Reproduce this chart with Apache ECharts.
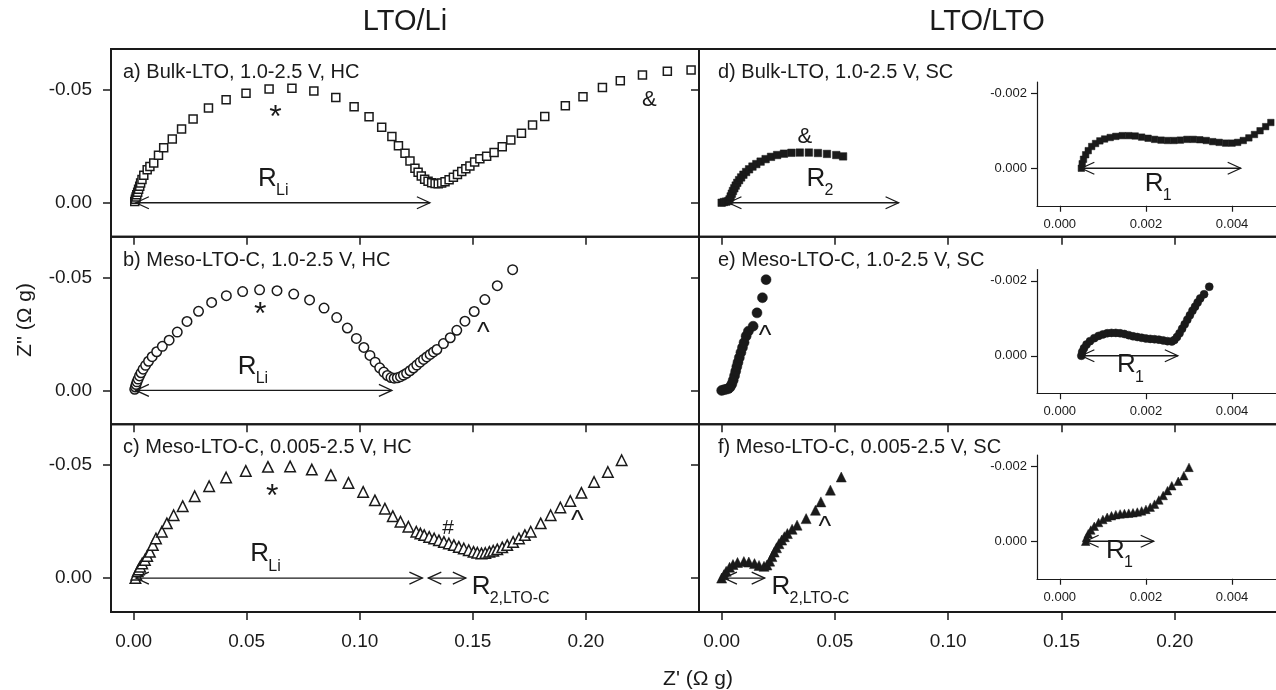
<!DOCTYPE html>
<html>
<head>
<meta charset="utf-8">
<script src="https://cdn.jsdelivr.net/npm/echarts@6/dist/echarts.min.js"></script>
<style>
  html, body { margin: 0; background: #fff; }
  #chart { width: 1276px; height: 690px; }
</style>
</head>
<body>
<div id="chart"></div>
<script>
(function () {
    'use strict';

    // ---- data: [Z', Z''] pairs ----
    var bulkHC = [[0.0005,-0.0005],[0.0008,-0.0015],[0.0011,-0.0025],[0.0014,-0.0035],[0.0018,-0.0047],[0.0022,-0.006],[0.0027,-0.0073],[0.0031,-0.0087],[0.0037,-0.0103],[0.0045,-0.0122],[0.006,-0.0146],[0.0072,-0.016],[0.0089,-0.0176],[0.011,-0.021],[0.0133,-0.0243],[0.0171,-0.0282],[0.0212,-0.0326],[0.0263,-0.037],[0.0331,-0.0419],[0.0409,-0.0455],[0.0497,-0.0484],[0.0599,-0.0503],[0.07,-0.0506],[0.0797,-0.0494],[0.0894,-0.0465],[0.0975,-0.0425],[0.1041,-0.038],[0.1097,-0.0334],[0.1142,-0.0293],[0.1171,-0.0252],[0.12,-0.0219],[0.1222,-0.0185],[0.1244,-0.0153],[0.1258,-0.0135],[0.1272,-0.0118],[0.1287,-0.0104],[0.1302,-0.0095],[0.1318,-0.0088],[0.1333,-0.0085],[0.1347,-0.0084],[0.1362,-0.0087],[0.1377,-0.0093],[0.1395,-0.0102],[0.1414,-0.0113],[0.1432,-0.0125],[0.1451,-0.0138],[0.1469,-0.015],[0.1487,-0.0163],[0.1508,-0.018],[0.1531,-0.0195],[0.1561,-0.0206],[0.1594,-0.0222],[0.163,-0.0248],[0.1668,-0.0278],[0.1715,-0.0307],[0.1764,-0.0344],[0.1818,-0.0381],[0.1909,-0.0429],[0.1987,-0.0469],[0.2073,-0.051],[0.2152,-0.054],[0.225,-0.0565],[0.236,-0.0582],[0.2465,-0.0587]];

    var mesoHC = [[0.0005,-0.0005],[0.0008,-0.0015],[0.0011,-0.0026],[0.0015,-0.0038],[0.002,-0.005],[0.0026,-0.0064],[0.0033,-0.0078],[0.0042,-0.0094],[0.0053,-0.0111],[0.0066,-0.0129],[0.0082,-0.0149],[0.0102,-0.0171],[0.0127,-0.0195],[0.0157,-0.0222],[0.0193,-0.0258],[0.0236,-0.0305],[0.0287,-0.035],[0.0345,-0.0389],[0.041,-0.0419],[0.0482,-0.0437],[0.0557,-0.0445],[0.0634,-0.0441],[0.0708,-0.0426],[0.0778,-0.04],[0.0842,-0.0364],[0.0898,-0.0322],[0.0945,-0.0276],[0.0985,-0.023],[0.1018,-0.019],[0.1045,-0.0155],[0.1068,-0.0125],[0.1088,-0.01],[0.1106,-0.0081],[0.1122,-0.0066],[0.1138,-0.0057],[0.1152,-0.0054],[0.1166,-0.0056],[0.118,-0.0061],[0.1193,-0.0068],[0.1207,-0.0076],[0.1222,-0.0087],[0.1237,-0.0099],[0.1252,-0.0112],[0.1267,-0.0125],[0.1282,-0.0137],[0.1296,-0.0148],[0.1311,-0.0159],[0.1326,-0.017],[0.1341,-0.0181],[0.137,-0.0207],[0.14,-0.0233],[0.1429,-0.0266],[0.1465,-0.0306],[0.1506,-0.0349],[0.1553,-0.0402],[0.1608,-0.0463],[0.1676,-0.0534]];

    var mesoHC005 = [[0.0008,0],[0.0012,-0.0015],[0.0018,-0.003],[0.0023,-0.0038],[0.0029,-0.005],[0.0038,-0.0065],[0.005,-0.008],[0.006,-0.0098],[0.0072,-0.0116],[0.0085,-0.0146],[0.0099,-0.0175],[0.0125,-0.0205],[0.0147,-0.0242],[0.0177,-0.0278],[0.0217,-0.0318],[0.027,-0.0362],[0.0334,-0.0406],[0.0409,-0.0445],[0.0496,-0.0474],[0.0594,-0.0492],[0.0692,-0.0494],[0.0788,-0.048],[0.0872,-0.0455],[0.095,-0.0421],[0.1015,-0.0381],[0.1067,-0.0344],[0.1111,-0.0307],[0.1146,-0.0274],[0.118,-0.0249],[0.1215,-0.0227],[0.125,-0.0205],[0.1268,-0.0197],[0.1285,-0.019],[0.1307,-0.0182],[0.1329,-0.0175],[0.135,-0.0167],[0.1372,-0.016],[0.1394,-0.0153],[0.1416,-0.0146],[0.1438,-0.0138],[0.146,-0.0131],[0.1482,-0.0123],[0.1503,-0.0116],[0.152,-0.0112],[0.1538,-0.0109],[0.1555,-0.0111],[0.1573,-0.0116],[0.159,-0.0121],[0.1608,-0.0127],[0.163,-0.0136],[0.1652,-0.0146],[0.1678,-0.016],[0.1704,-0.0175],[0.173,-0.019],[0.1756,-0.0205],[0.18,-0.0242],[0.1844,-0.0278],[0.1887,-0.0312],[0.1931,-0.0341],[0.198,-0.0377],[0.2036,-0.0425],[0.2097,-0.0469],[0.2158,-0.0521]];

    var bulkSC = [[0,0],[0.001,-0.0003],[0.002,-0.0005],[0.003,-0.0008],[0.0035,-0.0015],[0.004,-0.0028],[0.0045,-0.004],[0.005,-0.0052],[0.0056,-0.0064],[0.0062,-0.0076],[0.0069,-0.0088],[0.0077,-0.01],[0.0086,-0.0112],[0.0096,-0.0124],[0.0108,-0.0136],[0.0121,-0.0148],[0.0136,-0.016],[0.0153,-0.0171],[0.0172,-0.0182],[0.0194,-0.0193],[0.0218,-0.0203],[0.0245,-0.0211],[0.0275,-0.0217],[0.0308,-0.0221],[0.0345,-0.0222],[0.0385,-0.0222],[0.0425,-0.022],[0.0465,-0.0216],[0.0506,-0.0211],[0.0536,-0.0205]];

    var mesoSC = [[0,0],[0.001,-0.0003],[0.002,-0.0005],[0.003,-0.0008],[0.0038,-0.0015],[0.0045,-0.0028],[0.0051,-0.0045],[0.0057,-0.0065],[0.0062,-0.0085],[0.0067,-0.0105],[0.0072,-0.0124],[0.0078,-0.0145],[0.0085,-0.0168],[0.0092,-0.019],[0.0099,-0.0212],[0.0108,-0.024],[0.0118,-0.0262],[0.0139,-0.0284],[0.0156,-0.0343],[0.018,-0.041],[0.0196,-0.049]];

    var mesoSC005 = [[0,0],[0.001,-0.0015],[0.002,-0.003],[0.0035,-0.0048],[0.005,-0.006],[0.007,-0.0069],[0.0098,-0.0073],[0.012,-0.0071],[0.0145,-0.0064],[0.0165,-0.0056],[0.0187,-0.0052],[0.02,-0.0058],[0.0212,-0.0075],[0.0222,-0.0095],[0.0232,-0.0115],[0.0242,-0.0134],[0.0253,-0.0152],[0.0265,-0.0168],[0.0277,-0.0183],[0.029,-0.0197],[0.0311,-0.0216],[0.0333,-0.0234],[0.0373,-0.0263],[0.0414,-0.03],[0.0438,-0.0337],[0.048,-0.0389],[0.0528,-0.0447]];

    // insets (high-frequency part)
    var bulkSCzoom = [[0.0005,0],[0.00052,-0.00012],[0.00055,-0.00024],[0.0006,-0.00036],[0.00066,-0.00047],[0.00074,-0.00058],[0.00083,-0.00066],[0.00093,-0.00073],[0.00104,-0.00078],[0.00117,-0.00082],[0.0013,-0.00085],[0.00145,-0.00087],[0.0016,-0.00087],[0.00175,-0.00086],[0.0019,-0.00083],[0.00205,-0.0008],[0.0022,-0.00077],[0.00235,-0.00075],[0.0025,-0.00074],[0.00265,-0.00074],[0.0028,-0.00075],[0.00295,-0.00077],[0.0031,-0.00077],[0.00325,-0.00076],[0.0034,-0.00074],[0.00355,-0.00071],[0.0037,-0.00069],[0.00385,-0.00067],[0.004,-0.00067],[0.00413,-0.00069],[0.00426,-0.00074],[0.00439,-0.00081],[0.00452,-0.0009],[0.00465,-0.001],[0.00478,-0.00111],[0.0049,-0.00122]];

    var mesoSCzoom = [[0.0005,0],[0.00052,-0.0001],[0.00056,-0.0002],[0.00062,-0.0003],[0.0007,-0.00039],[0.0008,-0.00047],[0.0009,-0.00053],[0.001,-0.00057],[0.0011,-0.0006],[0.0012,-0.00061],[0.0013,-0.00061],[0.0014,-0.0006],[0.0015,-0.00058],[0.0016,-0.00055],[0.0017,-0.00052],[0.0018,-0.0005],[0.0019,-0.00048],[0.002,-0.00046],[0.0021,-0.00045],[0.0022,-0.00044],[0.0023,-0.00043],[0.0024,-0.00041],[0.0025,-0.00039],[0.0026,-0.00038],[0.00266,-0.00042],[0.00272,-0.0005],[0.00278,-0.0006],[0.00284,-0.00072],[0.0029,-0.00084],[0.00296,-0.00096],[0.00302,-0.00108],[0.00308,-0.0012],[0.00314,-0.00131],[0.0032,-0.00142],[0.00326,-0.00153],[0.00335,-0.00164],[0.00347,-0.00184]];

    var mesoSC005zoom = [[0.0006,0],[0.00062,-0.0001],[0.00066,-0.0002],[0.00072,-0.0003],[0.0008,-0.0004],[0.0009,-0.0005],[0.001,-0.00058],[0.0011,-0.00064],[0.0012,-0.00068],[0.0013,-0.00071],[0.0014,-0.00073],[0.0015,-0.00074],[0.0016,-0.00075],[0.0017,-0.00076],[0.0018,-0.00078],[0.0019,-0.00081],[0.002,-0.00085],[0.0021,-0.00091],[0.0022,-0.00099],[0.0023,-0.0011],[0.0024,-0.00122],[0.0025,-0.00135],[0.0026,-0.00148],[0.00275,-0.0016],[0.00288,-0.00175],[0.003,-0.00197]];

    // tick values
    var mainTicksX = [0, 0.05, 0.1, 0.15, 0.2];
    var mainTicksY = [-0.05, 0];
    var insetTicksX = [0, 0.002, 0.004];
    var insetTicksY = [-0.002, 0];

    // resistance arrows: [from Z', to Z', at Z'']
    var arrowsA = [[0.001, 0.131, 0]];
    var arrowsB = [[0.001, 0.1142, 0]];
    var arrowsC = [[0.001, 0.1277, 0], [0.1303, 0.1469, 0]];
    var arrowsD = [[0.003, 0.0781, 0]];
    var arrowsF = [[0.001, 0.019, 0]];
    var arrowsDin = [[0.0005, 0.0042, 0]];
    var arrowsEin = [[0.0005, 0.00274, 0]];
    var arrowsFin = [[0.0006, 0.00218, 0]];

    // annotations: [Z', Z'', text, subscript]
    var notesA = [[0.055, -0.0048, 'R', 'Li'], [0.0627, -0.0403, '*'], [0.228, -0.0455, '&']];
    var notesB = [[0.046, -0.0048, 'R', 'Li'], [0.056, -0.0365, '*'], [0.1546, -0.0269, '^']];
    var notesC = [[0.0516, -0.0048, 'R', 'Li'], [0.0613, -0.0388, '*'], [0.139, -0.0219, '#'], [0.1962, -0.0268, '^'], [0.1495, 0.0097, 'R', '2,LTO-C']];
    var notesD = [[0.0374, -0.0048, 'R', '2'], [0.0367, -0.0291, '&']];
    var notesE = [[0.0192, -0.0256, '^']];
    var notesF = [[0.0456, -0.0243, '^'], [0.022, 0.0097, 'R', '2,LTO-C']];
    var notesDin = [[0.00197, 0.00076, 'R', '1']];
    var notesEin = [[0.00133, 0.0006, 'R', '1']];
    var notesFin = [[0.00107, 0.00059, 'R', '1']];

    // ---- styling ----
    var INK = '#1a1a1a';
    var FONT = '"Liberation Sans", Arial, Helvetica, sans-serif';

    var rowTop = [49, 236.67, 424.33];
    var rowH = 187.67;
    var insetTop = [82, 269.5, 455];

    var grids = [];
    var xAxes = [];
    var yAxes = [];
    var series = [];

    function mainGrid(col, row) {
        return {
            left: col === 0 ? 111 : 699, width: col === 0 ? 588 : 589,
            top: rowTop[row], height: rowH,
            show: true, borderColor: INK, borderWidth: 2,
            backgroundColor: 'transparent', containLabel: false, outerBoundsMode: 'none'
        };
    }

    function mainX(gi, labels) {
        return {
            type: 'value', gridIndex: gi, min: -0.01, max: 0.25,
            axisLine: { show: false, onZero: false },
            splitLine: { show: false },
            axisTick: { show: true, customValues: mainTicksX, length: 8, lineStyle: { color: INK, width: 1.5 } },
            axisLabel: {
                show: labels, customValues: mainTicksX, margin: 20,
                fontSize: 19, fontFamily: FONT, color: INK,
                formatter: function (v) { return v.toFixed(2); }
            }
        };
    }

    function mainY(gi, labels) {
        return {
            type: 'value', gridIndex: gi, min: -0.068, max: 0.015, inverse: true,
            axisLine: { show: false, onZero: false },
            splitLine: { show: false },
            axisTick: { show: true, customValues: mainTicksY, length: 8, lineStyle: { color: INK, width: 1.5 } },
            axisLabel: {
                show: labels, customValues: mainTicksY, margin: 19,
                fontSize: 19, fontFamily: FONT, color: INK,
                formatter: function (v) { return v.toFixed(2); }
            }
        };
    }

    function insetX(gi) {
        return {
            type: 'value', gridIndex: gi, min: -0.00053, max: 0.00502,
            axisLine: { show: true, onZero: false, lineStyle: { color: INK, width: 1.2 } },
            splitLine: { show: false },
            axisTick: { show: true, customValues: insetTicksX, length: 6, lineStyle: { color: INK, width: 1.2 } },
            axisLabel: {
                customValues: insetTicksX, margin: 12,
                fontSize: 13, fontFamily: FONT, color: INK,
                formatter: function (v) { return v.toFixed(3); }
            }
        };
    }

    function insetY(gi) {
        return {
            type: 'value', gridIndex: gi, min: -0.0023, max: 0.001, inverse: true,
            axisLine: { show: true, onZero: false, lineStyle: { color: INK, width: 1.2 } },
            splitLine: { show: false },
            axisTick: { show: true, customValues: insetTicksY, length: 6, lineStyle: { color: INK, width: 1.2 } },
            axisLabel: {
                customValues: insetTicksY, margin: 10,
                fontSize: 13, fontFamily: FONT, color: INK,
                formatter: function (v) { return v.toFixed(3); }
            }
        };
    }

    function points(gi, data, symbol, size, filled) {
        return {
            type: 'scatter', xAxisIndex: gi, yAxisIndex: gi, data: data,
            symbol: symbol, symbolSize: size, silent: true, clip: true,
            itemStyle: filled
                ? { color: INK, borderColor: INK, borderWidth: 0.5, opacity: 1 }
                : { color: '#fff', borderColor: INK, borderWidth: 1.5, opacity: 1 }
        };
    }

    function arrowSeries(gi, arrows) {
        return {
            type: 'custom', xAxisIndex: gi, yAxisIndex: gi, silent: true, clip: false, z: 5,
            data: arrows,
            renderItem: function (params, api) {
                var a = api.coord([api.value(0), api.value(2)]);
                var b = api.coord([api.value(1), api.value(2)]);
                var h = 13, w = 6;
                var st = { stroke: INK, fill: null, lineWidth: 1.3 };
                return {
                    type: 'group', children: [
                        { type: 'line', shape: { x1: a[0], y1: a[1], x2: b[0], y2: b[1] }, style: st },
                        { type: 'polyline', shape: { points: [[a[0] + h, a[1] - w], [a[0], a[1]], [a[0] + h, a[1] + w]] }, style: st },
                        { type: 'polyline', shape: { points: [[b[0] - h, b[1] - w], [b[0], b[1]], [b[0] - h, b[1] + w]] }, style: st }
                    ]
                };
            }
        };
    }

    // glyph size and vertical nudge for the small markers (* sits high in its box)
    var glyphSize = { '*': 32, '^': 27, '&': 22, '#': 21 };
    var glyphShift = { '*': 7, '^': 4, '&': 0, '#': 0 };

    function noteSeries(gi, notes) {
        return {
            type: 'custom', xAxisIndex: gi, yAxisIndex: gi, silent: true, clip: false, z: 6,
            data: notes.map(function (n) { return [n[0], n[1]]; }),
            renderItem: function (params, api) {
                var n = notes[params.dataIndex];
                var p = api.coord([api.value(0), api.value(1)]);
                if (!n[3]) {
                    return {
                        type: 'text', x: p[0], y: p[1] + (glyphShift[n[2]] || 0),
                        style: { text: n[2], fontSize: glyphSize[n[2]] || 21, fontFamily: FONT, fill: INK, align: 'center', verticalAlign: 'middle' }
                    };
                }
                return {
                    type: 'group', children: [
                        { type: 'text', x: p[0], y: p[1], style: { text: n[2], fontSize: 26, fontFamily: FONT, fill: INK, align: 'left', verticalAlign: 'bottom' } },
                        { type: 'text', x: p[0] + 18, y: p[1] + 7, style: { text: n[3], fontSize: 16, fontFamily: FONT, fill: INK, align: 'left', verticalAlign: 'bottom' } }
                    ]
                };
            }
        };
    }

    // main panels: a,b,c left column, d,e,f right column
    var panels = [
        { col: 0, row: 0, data: bulkHC, symbol: 'rect', size: 8, filled: false, arrows: arrowsA, notes: notesA },
        { col: 0, row: 1, data: mesoHC, symbol: 'circle', size: 9.5, filled: false, arrows: arrowsB, notes: notesB },
        { col: 0, row: 2, data: mesoHC005, symbol: 'triangle', size: 10.5, filled: false, arrows: arrowsC, notes: notesC },
        { col: 1, row: 0, data: bulkSC, symbol: 'rect', size: 7.5, filled: true, arrows: arrowsD, notes: notesD },
        { col: 1, row: 1, data: mesoSC, symbol: 'circle', size: 10, filled: true, arrows: [], notes: notesE },
        { col: 1, row: 2, data: mesoSC005, symbol: 'triangle', size: 10, filled: true, arrows: arrowsF, notes: notesF }
    ];

    panels.forEach(function (p, i) {
        grids.push(mainGrid(p.col, p.row));
        xAxes.push(mainX(i, p.row === 2));
        yAxes.push(mainY(i, p.col === 0));
        series.push(points(i, p.data, p.symbol, p.size, p.filled));
        if (p.arrows.length) series.push(arrowSeries(i, p.arrows));
        series.push(noteSeries(i, p.notes));
    });

    var insets = [
        { data: bulkSCzoom, symbol: 'rect', size: 6.5, arrows: arrowsDin, notes: notesDin },
        { data: mesoSCzoom, symbol: 'circle', size: 8, arrows: arrowsEin, notes: notesEin },
        { data: mesoSC005zoom, symbol: 'triangle', size: 8.5, arrows: arrowsFin, notes: notesFin }
    ];

    insets.forEach(function (p, k) {
        var gi = 6 + k;
        grids.push({ left: 1037, width: 239, top: insetTop[k], height: 123.75, show: false, containLabel: false, outerBoundsMode: 'none' });
        xAxes.push(insetX(gi));
        yAxes.push(insetY(gi));
        series.push(points(gi, p.data, p.symbol, p.size, true));
        series.push(arrowSeries(gi, p.arrows));
        series.push(noteSeries(gi, p.notes));
    });

    var panelTitles = [
        'a) Bulk-LTO, 1.0-2.5 V, HC', 'b) Meso-LTO-C, 1.0-2.5 V, HC', 'c) Meso-LTO-C, 0.005-2.5 V, HC',
        'd) Bulk-LTO, 1.0-2.5 V, SC', 'e) Meso-LTO-C, 1.0-2.5 V, SC', 'f) Meso-LTO-C, 0.005-2.5 V, SC'
    ];
    var titleY = [73.5, 261, 448.5];

    var graphic = panelTitles.map(function (t, i) {
        return {
            type: 'text', left: i < 3 ? 123 : 718, top: titleY[i % 3] - 11, z: 10,
            style: { text: t, fontSize: 20, fontFamily: FONT, fill: INK }
        };
    });
    graphic.push(
        { type: 'text', x: 405, y: 22, style: { text: 'LTO/Li', fontSize: 29, fontFamily: FONT, fill: INK, align: 'center', verticalAlign: 'middle' } },
        { type: 'text', x: 987, y: 22, style: { text: 'LTO/LTO', fontSize: 29, fontFamily: FONT, fill: INK, align: 'center', verticalAlign: 'middle' } },
        { type: 'text', x: 698, y: 679, style: { text: "Z' (\u03a9 g)", fontSize: 21, fontFamily: FONT, fill: INK, align: 'center', verticalAlign: 'middle' } },
        { type: 'text', x: 25, y: 320, rotation: Math.PI / 2, style: { text: "Z'' (\u03a9 g)", fontSize: 21, fontFamily: FONT, fill: INK, align: 'center', verticalAlign: 'middle' } }
    );

    var chart = echarts.init(document.getElementById('chart'), null, { renderer: 'canvas' });
    chart.setOption({
        animation: false,
        backgroundColor: '#fff',
        grid: grids,
        xAxis: xAxes,
        yAxis: yAxes,
        series: series,
        graphic: graphic
    });
})();
</script>
</body>
</html>
